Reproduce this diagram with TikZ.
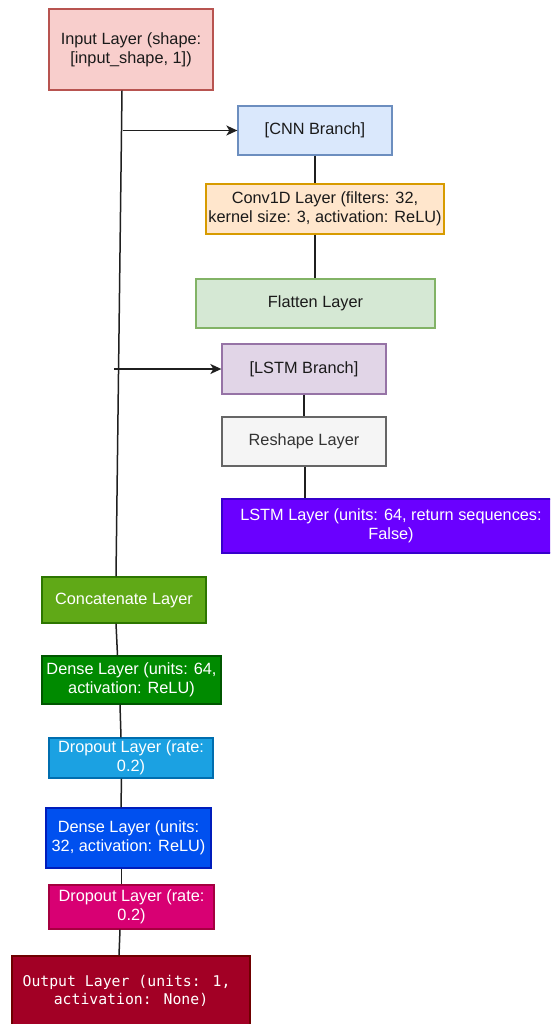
\documentclass[tikz,border=0pt]{standalone}
\usepackage{fontspec}
\setmainfont{Liberation Sans}
\newfontfamily\monofnt{DejaVu Sans Mono}
\usetikzlibrary{arrows.meta}
\definecolor{txtdark}{HTML}{1A1A1A}
\tikzset{
  box/.style={draw, line width=1.3pt, inner sep=0pt, align=center, font=\fontsize{16.3}{19.2}\selectfont, text=txtdark},
  conn/.style={draw=black!88, line width=1.5pt},
  arr/.style={conn, -{Stealth[length=11pt,width=10pt,inset=3pt]}}
}
\begin{document}
\begin{tikzpicture}[x=1pt,y=-1pt]
\useasboundingbox (0,0) rectangle (550,1024);
\fill[white] (0,0) rectangle (550,1024);
\begin{scope}
\clip (0,0) rectangle (550,1024);
% nodes
\node[box, fill={rgb,255:red,248;green,206;blue,204}, draw={rgb,255:red,184;green,84;blue,80}, minimum width=164, minimum height=81] (input) at (131,49.5) {Input Layer (shape:\\{}[input\_shape, 1])};
\node[box, fill={rgb,255:red,218;green,232;blue,252}, draw={rgb,255:red,108;green,142;blue,191}, minimum width=154, minimum height=49] (cnn) at (315,130.5) {[CNN Branch]};
\node[box, fill={rgb,255:red,255;green,230;blue,204}, draw={rgb,255:red,215;green,155;blue,0}, minimum width=238, minimum height=50] (conv) at (325,209) {Conv1D Layer (filters: 32,\\kernel size: 3, activation: ReLU)};
\node[box, fill={rgb,255:red,213;green,232;blue,212}, draw={rgb,255:red,130;green,179;blue,102}, minimum width=239, minimum height=49] (flat) at (315.5,303.5) {Flatten Layer};
\node[box, fill={rgb,255:red,225;green,213;blue,231}, draw={rgb,255:red,150;green,115;blue,166}, minimum width=164, minimum height=50] (lstmb) at (304,369) {[LSTM Branch]};
\node[box, fill={rgb,255:red,245;green,245;blue,245}, draw={rgb,255:red,102;green,102;blue,102}, text={rgb,255:red,51;green,51;blue,51}, minimum width=164, minimum height=49] (resh) at (304,441.5) {Reshape Layer};
\node[box, fill={rgb,255:red,106;green,0;blue,255}, draw={rgb,255:red,55;green,0;blue,204}, text=white, minimum width=338, minimum height=54] (lstm) at (391,526) {LSTM Layer (units: 64, return sequences:\\False)};
\node[box, fill={rgb,255:red,96;green,169;blue,23}, draw={rgb,255:red,45;green,118;blue,0}, text=white, minimum width=164, minimum height=46] (concat) at (124,600) {Concatenate Layer};
\node[box, fill={rgb,255:red,0;green,138;blue,0}, draw={rgb,255:red,0;green,87;blue,0}, text=white, minimum width=179, minimum height=48] (dense1) at (131.5,680) {Dense Layer (units: 64,\\activation: ReLU)};
\node[box, fill={rgb,255:red,27;green,161;blue,226}, draw={rgb,255:red,0;green,110;blue,175}, text=white, minimum width=164, minimum height=40] (drop1) at (131,758) {Dropout Layer (rate:\\0.2)};
\node[box, fill={rgb,255:red,0;green,80;blue,239}, draw={rgb,255:red,0;green,29;blue,188}, text=white, minimum width=165, minimum height=60] (dense2) at (128.5,838) {Dense Layer (units:\\32, activation: ReLU)};
\node[box, fill={rgb,255:red,216;green,0;blue,115}, draw={rgb,255:red,165;green,0;blue,64}, text=white, minimum width=165, minimum height=44] (drop2) at (131.5,907) {Dropout Layer (rate:\\0.2)};
\node[box, fill={rgb,255:red,162;green,0;blue,37}, draw={rgb,255:red,111;green,0;blue,0}, text=white, font=\monofnt\fontsize{14.8}{18}\selectfont, minimum width=238, minimum height=70] (out) at (131,991) {Output Layer (units: 1,\makebox[0.6em]{}\\activation: None)};
% trunk
\draw[conn] ([xshift=-9pt]input.south) -- ([xshift=-8pt]concat.north);
\coordinate (tapcnn) at (123,130.5);
\coordinate (taplstm) at (114,369);
\draw[arr] (tapcnn) -- (cnn.west);
\draw[arr] (taplstm) -- (lstmb.west);
% branch lines
\draw[conn] (cnn.south) -- (cnn.south |- conv.north);
\draw[conn] (cnn.south |- conv.south) -- (cnn.south |- flat.north);
\draw[conn] (lstmb.south) -- (resh.north);
\draw[conn] ([xshift=1pt]resh.south) -- ([xshift=1pt]resh.south |- lstm.north);
% lower chain
\draw[conn] ([xshift=-8pt]concat.south) -- ([xshift=-14pt]dense1.north);
\draw[conn] ([xshift=-11.5pt]dense1.south) -- ([xshift=-10pt]drop1.north);
\draw[conn] ([xshift=-9.5pt]drop1.south) -- ([xshift=-7.5pt]dense2.north);
\draw[conn] ([xshift=-7pt]dense2.south) -- ([xshift=-10pt]drop2.north);
\draw[conn] ([xshift=-11.5pt]drop2.south) -- ([xshift=-12pt]out.north);
\end{scope}
\end{tikzpicture}
\end{document}
